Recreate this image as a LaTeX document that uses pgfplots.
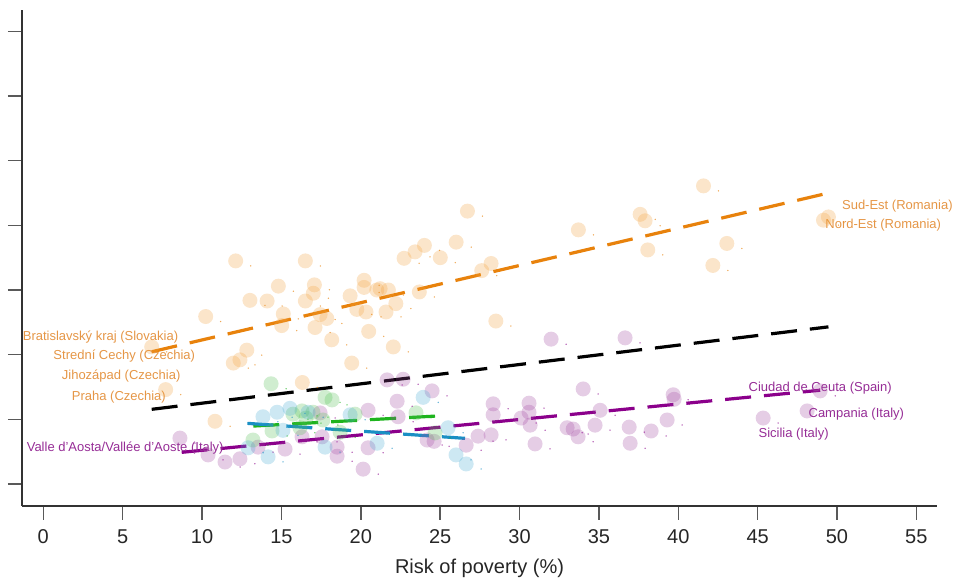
\documentclass[border=0pt]{standalone}
\usepackage{fontspec}
\setmainfont{Liberation Sans}
\usepackage{pgfplots}
\usepackage{pgfplotstable}
\pgfplotsset{compat=1.18}
\definecolor{ptOrange}{RGB}{242,160,60}
\definecolor{ptPurple}{RGB}{160,70,160}
\definecolor{ptGreen}{RGB}{80,190,80}
\definecolor{ptBlue}{RGB}{70,170,210}
\definecolor{lnOrange}{RGB}{232,130,12}
\definecolor{lnPurple}{RGB}{139,0,139}
\definecolor{lnGreen}{RGB}{30,180,30}
\definecolor{lnBlue}{RGB}{26,143,196}
\definecolor{lbOrange}{RGB}{229,150,70}
\definecolor{lbPurple}{RGB}{150,45,150}

\pgfplotstableread{
x y
6.83 2.12
7.71 1.46
10.23 2.59
10.82 0.97
11.97 1.87
12.39 1.92
12.82 2.07
12.12 3.45
13.02 2.84
14.10 2.83
14.81 3.06
15.12 2.63
15.02 2.45
16.51 3.45
16.51 2.83
17.01 2.95
17.08 3.08
17.12 2.42
17.44 2.62
17.86 2.56
18.17 2.23
16.32 1.57
19.43 1.87
19.33 2.91
19.75 2.70
20.21 3.15
20.21 3.04
20.33 2.66
20.50 2.36
21.01 3.00
21.22 3.02
21.74 3.00
21.59 2.66
22.21 2.79
22.05 2.12
22.73 3.49
23.42 3.59
24.01 3.69
23.69 2.97
25.01 3.50
26.01 3.74
26.72 4.22
28.21 3.41
27.62 3.30
28.51 2.52
33.71 3.93
37.60 4.17
37.91 4.07
38.08 3.62
41.59 4.61
43.06 3.72
42.18 3.38
49.46 4.13
49.15 4.08
}\orangepts

\pgfplotstableread{
x y
8.61 0.71
10.38 0.45
11.45 0.34
12.39 0.39
13.53 0.57
15.23 0.54
16.30 0.73
17.56 0.73
17.44 1.10
18.51 0.57
18.51 0.43
20.15 0.23
20.46 1.14
20.46 0.56
21.66 1.61
22.67 1.62
22.29 1.28
22.35 1.04
24.49 1.44
24.18 0.68
24.62 0.66
26.64 0.60
27.39 0.74
28.21 0.76
28.34 1.24
28.34 1.07
30.10 1.02
30.60 1.25
30.60 1.11
30.67 0.91
30.98 0.62
31.99 2.24
34.01 1.47
35.08 1.14
34.76 0.91
33.00 0.87
33.38 0.85
33.69 0.73
36.65 2.26
36.91 0.88
38.29 0.82
36.97 0.63
39.30 0.99
39.68 1.38
39.74 1.31
45.35 1.02
48.12 1.13
48.94 1.44
}\purplepts

\pgfplotstableread{
x y
14.35 1.55
17.75 1.34
18.19 1.30
16.30 1.13
16.99 1.11
15.73 1.08
19.64 1.08
23.48 1.10
14.41 0.82
16.17 0.87
13.21 0.68
18.70 0.80
24.68 0.79
16.55 1.02
17.62 0.99
}\greenpts

\pgfplotstableread{
x y
13.84 1.04
14.73 1.11
15.54 1.17
16.68 1.11
15.10 0.83
14.16 0.42
12.90 0.56
17.75 0.57
19.33 1.07
21.03 0.63
23.93 1.34
25.50 0.87
26.00 0.45
26.64 0.31
}\bluepts

\pgfplotsset{
  pts/.style={only marks, mark=*, mark size=7.5pt, color=#1, draw opacity=0, line width=0pt,
    mark options={color=#1, draw opacity=0, fill opacity=0.27}},
  dots/.style={only marks, mark=*, mark size=0.75pt, color=#1, draw opacity=0, line width=0pt,
    mark options={color=#1, draw opacity=0, fill opacity=0.7, xshift=15pt, yshift=-5pt}},
  reg/.style={#1, line width=3.2pt, dash pattern=on 26pt off 13pt},
}

\begin{document}
\begin{tikzpicture}
\path[use as bounding box] (0,0) rectangle (958pt,580pt);
\begin{axis}[
  at={(22pt,74pt)}, anchor=south west,
  scale only axis, width=915pt, height=496pt,
  xmin=-1.34, xmax=56.3, ymin=-0.34, ymax=7.33,
  axis x line=bottom, axis y line=left,
  axis line style={-, line width=1.5pt, draw=black!80},
  tick align=outside, major tick length=14pt,
  tick style={line width=1.5pt, draw=black!65},
  xtick={0,5,...,55}, ytick={0,1,...,7}, yticklabels={},
  /pgf/number format/assume math mode=true,
  ticklabel style={font=\fontsize{20}{24}\selectfont, text=black!85},
  xticklabel style={yshift=-6pt},
  xlabel={Risk of poverty (\%)},
  xlabel style={font=\fontsize{20}{24}\selectfont, text=black!85, at={(axis description cs:0.5,-0.125)}, anchor=center},
  clip=false,
]
% scatter circles
\addplot[pts=ptOrange] table {\orangepts};
\addplot[pts=ptPurple] table {\purplepts};
\addplot[pts=ptGreen] table {\greenpts};
\addplot[pts=ptBlue] table {\bluepts};
% tiny label dots
\addplot[dots=lnOrange] table {\orangepts};
\addplot[dots=lnPurple] table {\purplepts};
\addplot[dots=lnGreen] table {\greenpts};
\addplot[dots=lnBlue] table {\bluepts};
% regression lines
\addplot[reg=lnOrange] coordinates {(6.83,2.045) (49.46,4.50)};
\addplot[reg=black] coordinates {(6.83,1.155) (49.46,2.43)};
\addplot[reg=lnPurple] coordinates {(8.72,0.49) (48.94,1.45)};
\addplot[reg=lnGreen] coordinates {(13.23,0.896) (24.68,1.05)};
\addplot[reg=lnBlue] coordinates {(12.86,0.938) (26.57,0.706)};
% labels
\begin{scope}[every node/.style={anchor=west, inner sep=0pt, font=\fontsize{13}{15}\selectfont}]
\node[text=lbOrange] at (axis cs:50.31,4.30) {Sud-Est (Romania)};
\node[text=lbOrange] at (axis cs:49.26,4.00) {Nord-Est (Romania)};
\node[text=lbOrange] at (axis cs:-1.30,2.28) {Bratislavský kraj (Slovakia)};
\node[text=lbOrange] at (axis cs:0.63,1.98) {Strední Cechy (Czechia)};
\node[text=lbOrange] at (axis cs:1.16,1.67) {Jihozápad (Czechia)};
\node[text=lbOrange] at (axis cs:1.79,1.35) {Praha (Czechia)};
\node[text=lbPurple] at (axis cs:-1.05,0.56) {Valle d'Aosta/Vallée d'Aoste (Italy)};
\node[text=lbPurple] at (axis cs:44.42,1.49) {Ciudad de Ceuta (Spain)};
\node[text=lbPurple] at (axis cs:48.20,1.08) {Campania (Italy)};
\node[text=lbPurple] at (axis cs:45.05,0.77) {Sicilia (Italy)};
\end{scope}
\end{axis}
\end{tikzpicture}
\end{document}
